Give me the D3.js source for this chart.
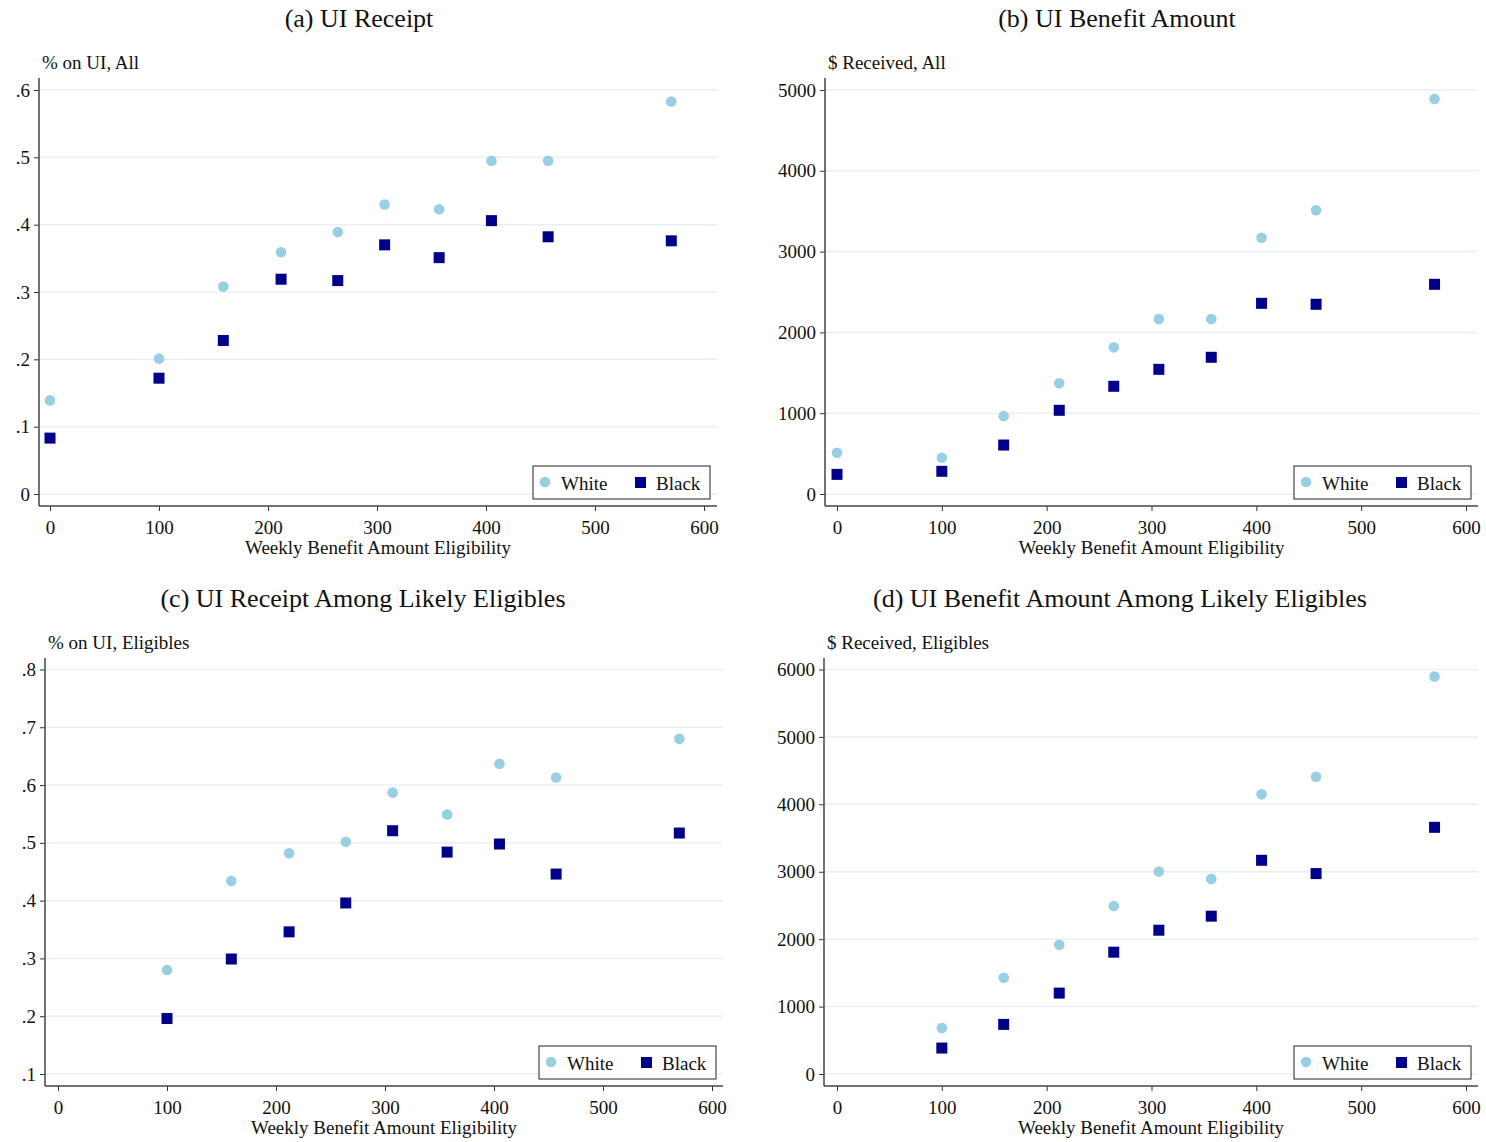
<!DOCTYPE html>
<html>
<head>
<meta charset="utf-8">
<script src="https://cdn.jsdelivr.net/npm/d3@7"></script>
<style>
  body { margin: 0; background: #fff; }
  text { font-family: "Liberation Serif", "Times New Roman", serif; fill: #111; }
</style>
</head>
<body>
<div id="chart"></div>
<script>
// weekly benefit amount bins (x values)
var wbaAll = [0, 100, 159, 212, 264, 307, 357, 405, 457, 570];
var wbaElig = [100, 159, 212, 264, 307, 357, 405, 457, 570];

// (a) UI receipt, all
var receiptWhite = [.139, .201, .308, .359, .389, .430, .423, .495, .495, .583];
var receiptBlack = [.083, .172, .228, .319, .317, .370, .351, .406, .382, .376];

// (b) benefit amount, all
var amountWhite = [511, 449, 965, 1370, 1815, 2166, 2166, 3172, 3511, 4889];
var amountBlack = [243, 281, 606, 1036, 1333, 1543, 1692, 2360, 2348, 2595];

// (c) UI receipt, likely eligibles
var receiptEligWhite = [.280, .434, .482, .502, .587, .549, .637, .613, .680];
var receiptEligBlack = [.196, .299, .346, .396, .521, .484, .498, .446, .517];

// (d) benefit amount, likely eligibles
var amountEligWhite = [681, 1427, 1916, 2493, 3003, 2894, 4148, 4410, 5896];
var amountEligBlack = [385, 736, 1200, 1807, 2133, 2341, 3170, 2973, 3659];

var xTicks = [0, 100, 200, 300, 400, 500, 600];
var yTicksShare = [0, .1, .2, .3, .4, .5, .6];
var yTicksShareElig = [.1, .2, .3, .4, .5, .6, .7, .8];
var yTicksAmount = [0, 1000, 2000, 3000, 4000, 5000];
var yTicksAmountElig = [0, 1000, 2000, 3000, 4000, 5000, 6000];

var white = "#98cfe3";
var black = "#00008b";

var svg = d3.select("#chart").append("svg")
    .attr("width", 1486)
    .attr("height", 1142);

function shareFmt(d){
    if (d === 0) return "0";
    return d3.format(".1f")(d).replace(/^0/, "");
}

// one panel: frame is in page pixels
function drawPanel(p){
    var g = svg.append("g");

    var x = d3.scaleLinear().domain([0, 600]).range([p.x0, p.x600]);
    var y = d3.scaleLinear().domain([p.yTicks[0], p.yTicks[p.yTicks.length-1]]).range([p.yLow, p.yHigh]);

    // title
    g.append("text")
        .attr("x", p.titleX).attr("y", p.titleY)
        .attr("text-anchor", "middle")
        .style("font-size", "26px")
        .text(p.title);

    // gridlines
    g.selectAll(".grid")
        .data(p.yTicks)
        .join("line")
        .attr("x1", p.left).attr("x2", p.right)
        .attr("y1", function(d){ return y(d); })
        .attr("y2", function(d){ return y(d); })
        .attr("stroke", "#e8eff2")
        .attr("stroke-width", 1.5);

    // y axis
    var yAxis = g.append("g")
        .attr("transform", "translate(" + p.left + ",0)")
        .call(d3.axisLeft(y).tickValues(p.yTicks).tickFormat(p.fmt).tickSize(5).tickPadding(4));
    yAxis.select(".domain").remove();

    // x axis
    var xAxis = g.append("g")
        .attr("transform", "translate(0," + p.bottom + ")")
        .call(d3.axisBottom(x).tickValues(xTicks).tickFormat(d3.format("d")).tickSize(5).tickPadding(10));
    xAxis.select(".domain").remove();

    g.selectAll(".tick line").attr("stroke", "#333");
    g.selectAll(".tick text")
        .style("font-size", "19px")
        .style("font-family", "Liberation Serif, Times New Roman, serif")
        .attr("fill", "#111");

    // frame lines
    g.append("line")
        .attr("x1", p.left).attr("x2", p.left)
        .attr("y1", p.top).attr("y2", p.bottom)
        .attr("stroke", "#444").attr("stroke-width", 1.5);
    g.append("line")
        .attr("x1", p.left).attr("x2", p.right)
        .attr("y1", p.bottom).attr("y2", p.bottom)
        .attr("stroke", "#444").attr("stroke-width", 1.5);

    // y title
    g.append("text")
        .attr("x", p.left + 3).attr("y", p.top - 9)
        .style("font-size", "19px")
        .text(p.yTitle);

    // x title
    g.append("text")
        .attr("x", (p.left + p.right) / 2).attr("y", p.bottom + 48)
        .attr("text-anchor", "middle")
        .style("font-size", "19px")
        .text("Weekly Benefit Amount Eligibility");

    // points
    g.selectAll(".w")
        .data(p.xs.map(function(d, i){ return {x: d, y: p.whiteVals[i]}; }))
        .join("circle")
        .attr("cx", function(d){ return x(d.x); })
        .attr("cy", function(d){ return y(d.y); })
        .attr("r", 5.3)
        .attr("fill", white);

    g.selectAll(".b")
        .data(p.xs.map(function(d, i){ return {x: d, y: p.blackVals[i]}; }))
        .join("rect")
        .attr("x", function(d){ return x(d.x) - 5.5; })
        .attr("y", function(d){ return y(d.y) - 5.5; })
        .attr("width", 11).attr("height", 11)
        .attr("fill", black);

    // legend
    var lx = p.right - 184, ly = p.bottom - 40;
    var lg = g.append("g").attr("transform", "translate(" + lx + "," + ly + ")");
    lg.append("rect")
        .attr("width", 177).attr("height", 33)
        .attr("fill", "#fff").attr("stroke", "#222").attr("stroke-width", 1);
    lg.append("circle").attr("cx", 12).attr("cy", 16).attr("r", 5.3).attr("fill", white);
    lg.append("text").attr("x", 28).attr("y", 24).style("font-size", "19px").text("White");
    lg.append("rect").attr("x", 102).attr("y", 11).attr("width", 11).attr("height", 11).attr("fill", black);
    lg.append("text").attr("x", 123).attr("y", 24).style("font-size", "19px").text("Black");
}

drawPanel({
    title: "(a) UI Receipt", titleX: 359, titleY: 27,
    yTitle: "% on UI, All",
    left: 39, right: 717, top: 78, bottom: 506,
    x0: 50, x600: 704, yLow: 494, yHigh: 90,
    yTicks: yTicksShare, fmt: shareFmt,
    xs: wbaAll, whiteVals: receiptWhite, blackVals: receiptBlack
});

drawPanel({
    title: "(b) UI Benefit Amount", titleX: 1117, titleY: 27,
    yTitle: "$ Received, All",
    left: 825, right: 1478, top: 78, bottom: 506,
    x0: 837, x600: 1466, yLow: 494, yHigh: 90,
    yTicks: yTicksAmount, fmt: d3.format("d"),
    xs: wbaAll, whiteVals: amountWhite, blackVals: amountBlack
});

drawPanel({
    title: "(c) UI Receipt Among Likely Eligibles", titleX: 363, titleY: 607,
    yTitle: "% on UI, Eligibles",
    left: 45, right: 723, top: 658, bottom: 1086,
    x0: 58, x600: 712, yLow: 1074, yHigh: 669.5,
    yTicks: yTicksShareElig, fmt: shareFmt,
    xs: wbaElig, whiteVals: receiptEligWhite, blackVals: receiptEligBlack
});

drawPanel({
    title: "(d) UI Benefit Amount Among Likely Eligibles", titleX: 1120, titleY: 607,
    yTitle: "$ Received, Eligibles",
    left: 824, right: 1478, top: 658, bottom: 1086,
    x0: 837, x600: 1466, yLow: 1074, yHigh: 669.5,
    yTicks: yTicksAmountElig, fmt: d3.format("d"),
    xs: wbaElig, whiteVals: amountEligWhite, blackVals: amountEligBlack
});
</script>
</body>
</html>
